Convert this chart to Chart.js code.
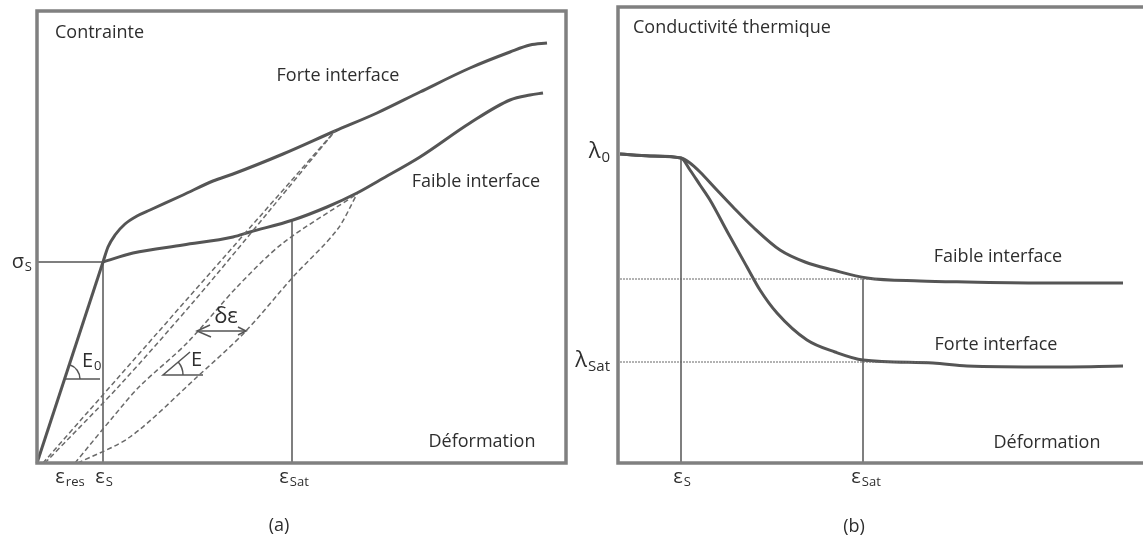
<!DOCTYPE html>
<html>
<head>
<meta charset="utf-8">
<script src="https://cdn.jsdelivr.net/npm/chart.js@4.4.0/dist/chart.umd.min.js"></script>
<style>
html, body { margin: 0; padding: 0; background: #fff; width: 1143px; height: 539px; overflow: hidden; }
#cA { position: absolute; left: 0; top: 0; }
#cB { position: absolute; left: 570px; top: 0; }
</style>
</head>
<body>
<canvas id="cA" width="570" height="539"></canvas>
<canvas id="cB" width="600" height="539"></canvas>
<script>
// (a) contrainte vs déformation (arbitrary units)
const elasticA = [[0, 0], [66, 201]];
const forteA = [[66, 201], [71, 216], [78, 228], [88, 239], [100, 247], [113, 253], [146, 268], [176, 282], [196, 289], [246, 309], [298, 332], [340, 350], [383, 371], [433, 395], [473, 411], [493, 418], [510, 420]];
const faibleA = [[66, 201], [96, 210], [146, 218], [196, 226], [213, 231], [256, 243], [290, 256], [320, 270], [343, 283], [383, 306], [433, 340], [473, 363], [493, 368], [506, 370]];
const unloadForteA = [[6, 0], [298, 332]];
const reloadForteA = [[8, 0], [83, 78], [158, 163], [233, 253], [298, 332]];
const reloadFaibleA = [[38, 0], [76, 46], [103, 77], [150, 120], [200, 176], [246, 220], [320, 269]];
const unloadFaibleA = [[41, 0], [93, 26], [160, 86], [208, 131], [256, 186], [300, 233], [320, 269]];
const sigmaS = 201;
const epsRes = 38, epsSA = 66, epsSatA = 255;
const deltaEps = [[160, 132], [209, 132]];
const slopeE0 = [[28, 84], [63, 84]];
const slopeE = [[153, 111], [126, 88], [166, 88]];

// (b) conductivité thermique vs déformation
const faibleB = [[2, 309], [32, 307], [63, 305], [72, 300], [82, 291], [97, 275], [115, 256], [135, 236], [162, 213], [187, 201], [215, 193], [249, 185], [302, 182], [349, 181], [432, 180], [505, 180]];
const forteB = [[2, 309], [32, 307], [63, 305], [72, 293], [82, 278], [92, 263], [110, 230], [129, 196], [142, 173], [159, 150], [189, 123], [217, 111], [245, 103], [315, 100], [349, 97], [432, 96], [505, 97]];
const lambda0 = 309, lambdaSatFaible = 184, lambdaSat = 101;
const epsSB = 63, epsSatB = 245;

const INK = '#555';
const TXT = '#2e2e2e';
const FONT = '"Open Sans", sans-serif';

const pts = a => a.map(([x, y]) => ({ x, y }));

function line(data, width, opts) {
  return Object.assign({
    data: pts(data),
    borderColor: INK,
    borderWidth: width,
    pointRadius: 0,
    fill: false,
    tension: 0,
    clip: false
  }, opts || {});
}
const smooth = { cubicInterpolationMode: 'monotone' };
const dashed = { borderColor: '#6a6a6a', borderDash: [5, 3], tension: 0.3 };
const dotted = { borderColor: '#666', borderDash: [2, 1] };

function label(ctx, text, x, y, align) {
  ctx.font = '18px ' + FONT;
  ctx.fillStyle = TXT;
  ctx.textAlign = align || 'left';
  ctx.textBaseline = 'middle';
  ctx.fillText(text, x, y);
}

function sym(ctx, main, sub, x, y, align, size) {
  size = size || 20;
  const subSize = Math.round(size * 0.66);
  ctx.fillStyle = TXT;
  ctx.textBaseline = 'middle';
  ctx.textAlign = 'left';
  ctx.font = size + 'px ' + FONT;
  const w1 = ctx.measureText(main).width;
  ctx.font = subSize + 'px ' + FONT;
  const w2 = sub ? ctx.measureText(sub).width + 1 : 0;
  let x0 = x;
  if (align === 'right') x0 = x - w1 - w2;
  if (align === 'center') x0 = x - (w1 + w2) / 2;
  ctx.font = size + 'px ' + FONT;
  ctx.fillText(main, x0, y);
  if (sub) {
    ctx.font = subSize + 'px ' + FONT;
    ctx.fillText(sub, x0 + w1 + 1, y + size * 0.28);
  }
}

function frame(ctx, area) {
  ctx.save();
  ctx.strokeStyle = '#808080';
  ctx.lineWidth = 3.5;
  ctx.strokeRect(area.left, area.top, area.right - area.left, area.bottom - area.top);
  ctx.restore();
}

const decorA = {
  id: 'decorA',
  afterDraw(chart) {
    const { ctx, chartArea: a, scales: { x, y } } = chart;
    const px = v => x.getPixelForValue(v), py = v => y.getPixelForValue(v);
    frame(ctx, a);
    ctx.save();
    // arrow heads for δε
    ctx.strokeStyle = INK;
    ctx.lineWidth = 1.5;
    const l = [px(deltaEps[0][0]), py(deltaEps[0][1])];
    const r = [px(deltaEps[1][0]), py(deltaEps[1][1])];
    ctx.beginPath();
    ctx.moveTo(l[0] + 13, l[1] - 6); ctx.lineTo(l[0], l[1]); ctx.lineTo(l[0] + 14, l[1] + 6);
    ctx.moveTo(r[0] - 8, r[1] - 4); ctx.lineTo(r[0], r[1]); ctx.lineTo(r[0] - 8, r[1] + 4);
    ctx.stroke();
    // angle arcs
    const e0 = [px(elasticA[0][0]), py(elasticA[0][1])], e1 = [px(elasticA[1][0]), py(elasticA[1][1])];
    ctx.beginPath();
    ctx.arc(px(slopeE0[0][0]), py(slopeE0[0][1]), 15, Math.atan2(e1[1] - e0[1], e1[0] - e0[0]), 0);
    ctx.stroke();
    const v = [px(slopeE[1][0]), py(slopeE[1][1])], s = [px(slopeE[0][0]), py(slopeE[0][1])];
    ctx.beginPath();
    ctx.arc(v[0], v[1], 20, Math.atan2(s[1] - v[1], s[0] - v[0]), 0);
    ctx.stroke();
    ctx.restore();

    label(ctx, 'Contrainte', px(18), py(430));
    label(ctx, 'Forte interface', px(301), py(387), 'center');
    label(ctx, 'Faible interface', px(439), py(281), 'center');
    label(ctx, 'Déformation', px(445), py(21), 'center');
    label(ctx, '(a)', px(242), py(-63), 'center');
    sym(ctx, 'δε', '', 226, 317, 'center', 22);
    sym(ctx, 'E', '0', 82, 361, 'left', 20);
    sym(ctx, 'E', '', 191, 360, 'left', 20);
    // axis symbols
    sym(ctx, 'σ', 'S', a.left - 5, py(sigmaS), 'right');
    sym(ctx, 'ε', 'res', px(epsRes) - 5, a.bottom + 14, 'center');
    sym(ctx, 'ε', 'S', px(epsSA) + 1, a.bottom + 14, 'center');
    sym(ctx, 'ε', 'Sat', px(epsSatA) + 2, a.bottom + 14, 'center');
  }
};

const decorB = {
  id: 'decorB',
  afterDraw(chart) {
    const { ctx, chartArea: a, scales: { x, y } } = chart;
    const px = v => x.getPixelForValue(v), py = v => y.getPixelForValue(v);
    frame(ctx, a);
    label(ctx, 'Conductivité thermique', px(15), py(435));
    label(ctx, 'Faible interface', px(380), py(206), 'center');
    label(ctx, 'Forte interface', px(378), py(118), 'center');
    label(ctx, 'Déformation', px(429), py(20), 'center');
    label(ctx, '(b)', px(236), py(-64), 'center');
    sym(ctx, 'λ', '0', a.left - 8, py(lambda0) - 2, 'right', 22);
    sym(ctx, 'λ', 'Sat', a.left - 8, py(lambdaSat) - 1, 'right', 22);
    sym(ctx, 'ε', 'S', px(epsSB) + 1, a.bottom + 14, 'center');
    sym(ctx, 'ε', 'Sat', px(epsSatB) + 3, a.bottom + 14, 'center');
  }
};

function baseOptions(xMax, yMax, padding) {
  return {
    responsive: false,
    animation: false,
    layout: { padding },
    plugins: { legend: { display: false }, tooltip: { enabled: false } },
    scales: {
      x: { type: 'linear', min: 0, max: xMax, display: false },
      y: { type: 'linear', min: 0, max: yMax, display: false }
    }
  };
}

new Chart(document.getElementById('cA'), {
  type: 'line',
  data: {
    datasets: [
      line(unloadForteA, 1.5, dashed),
      line(reloadForteA, 1.5, dashed),
      line(reloadFaibleA, 1.5, dashed),
      line(unloadFaibleA, 1.5, dashed),
      line([[0, sigmaS], [epsSA, sigmaS]], 1.5),
      line([[epsSA, 0], [epsSA, sigmaS]], 1.5),
      line([[epsSatA, 0], [epsSatA, 243]], 1.5),
      line(deltaEps, 1.5),
      line(slopeE0, 1.5),
      line(slopeE, 1.5),
      line(elasticA, 3),
      line(forteA, 3, smooth),
      line(faibleA, 3, smooth)
    ]
  },
  options: baseOptions(529, 452, { left: 37, top: 11, right: 4, bottom: 76 }),
  plugins: [decorA]
});

new Chart(document.getElementById('cB'), {
  type: 'line',
  data: {
    datasets: [
      line([[2, lambdaSatFaible], [259, lambdaSatFaible]], 1, dotted),
      line([[2, lambdaSat], [309, lambdaSat]], 1, dotted),
      line([[epsSB, 0], [epsSB, 305]], 1.5),
      line([[epsSatB, 0], [epsSatB, lambdaSatFaible]], 1.5),
      line(faibleB, 3, smooth),
      line(forteB, 3, smooth)
    ]
  },
  options: baseOptions(542, 456, { left: 48, top: 7, right: 10, bottom: 76 }),
  plugins: [decorB]
});
</script>
</body>
</html>
